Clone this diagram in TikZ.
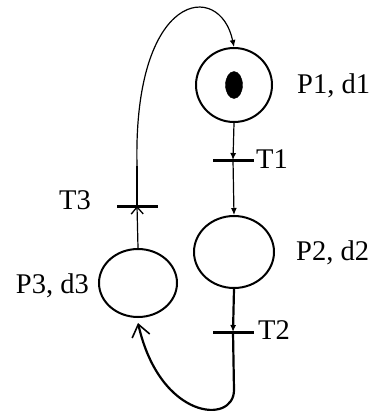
\documentclass[tikz,border=0pt]{standalone}
\usepackage{fontspec}
\setmainfont{Liberation Serif}
\usetikzlibrary{arrows.meta,shapes.geometric}
\begin{document}
\begin{tikzpicture}[x=1pt,y=-1pt,
  place/.style={draw,ellipse,line width=2pt,inner sep=0pt},
  bar/.style={fill=black,inner sep=0pt,minimum width=41pt,minimum height=3pt},
  lbl/.style={font=\fontsize{28.5}{31}\selectfont,inner sep=0pt},
  arc/.style={line width=1.2pt},
  tip/.style={-{Latex[length=7pt,width=6pt]}},
  opentip/.style={-{Straight Barb[length=12pt,width=18pt,line width=1.6pt]}}]
\useasboundingbox (0,0) rectangle (374,412);
\node[place,minimum width=76pt,minimum height=74pt] (P1) at (234,85) {};
\node[draw,ellipse,fill=black,inner sep=0pt,minimum width=17pt,minimum height=27pt] (tok) at (234,85) {};
\node[place,minimum width=80pt,minimum height=72pt] (P2) at (234,252) {};
\node[place,minimum width=78pt,minimum height=68pt] (P3) at (138,283) {};
\node[bar] (T1) at (233,160) {};
\node[bar] (T2) at (233,332) {};
\node[bar] (T3) at (137,206) {};
\coordinate (b1) at (234,390);
\coordinate (a3) at (137,166);
\node[lbl,anchor=west] at (297,86) {P1, d1};
\node[lbl,anchor=west] at (256,159) {T1};
\node[lbl,anchor=west] at (296,253) {P2, d2};
\node[lbl,anchor=west] at (258,330) {T2};
\node[lbl,anchor=east] at (89,286) {P3, d3};
\node[lbl,anchor=east] at (91,200) {T3};
\draw[arc,tip] (P1.south) -- (T1.center);
\draw[arc,tip] (T1.center) -- (P2.north);
\draw[line width=2.2pt,tip] (P2.south) -- (T2.center);
\draw[line width=2.2pt] (T2.center) -- (b1);
\draw[line width=2.2pt,opentip] (b1) .. controls (234,425) and (160,420) .. ([yshift=-5pt]P3.south);
\draw[arc,-{Straight Barb[length=7pt,width=12pt,line width=1.3pt]}] (P3.north) -- (T3.center);
\draw[arc] (T3.center) -- (a3);
\draw[arc,tip] (a3) .. controls (133,-10) and (220,-20) .. (P1.north);
\end{tikzpicture}
\end{document}
